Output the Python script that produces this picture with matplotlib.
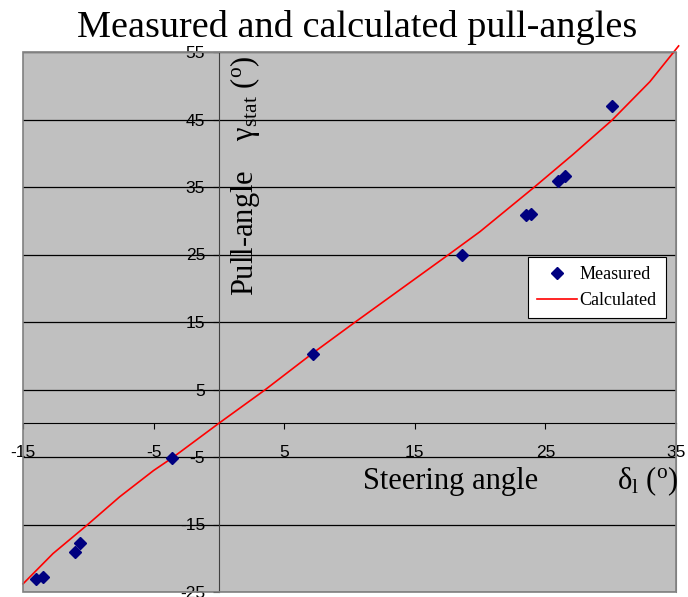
import matplotlib
matplotlib.use("Agg")
import matplotlib.pyplot as plt
from matplotlib.patches import Rectangle

# Data
measured_x = [-14.0, -13.5, -11.0, -10.6, -3.6, 7.2, 18.6, 23.5, 23.9, 26.0, 26.5, 30.1]
measured_y = [-23.0, -22.8, -19.1, -17.8, -5.1, 10.3, 25.0, 30.9, 31.0, 35.9, 36.6, 47.0]

calc_x = [-15.0, -12.7, -10.1, -7.6, -5.0, -3.55, 0.0, 3.5, 7.2, 10.3, 17.6, 20.0,
          24.1, 27.1, 30.1, 33.0, 35.2]
calc_y = [-23.8, -19.3, -15.1, -10.9, -7.0, -5.1, 0.0, 4.9, 10.4, 14.8, 25.0, 28.4,
          34.9, 39.8, 44.9, 50.6, 55.9]

x_ticks = [-15, -5, 5, 15, 25, 35]
y_ticks = [-25, -15, -5, 5, 15, 25, 35, 45, 55]

plt.rcParams['axes.unicode_minus'] = False
plt.rcParams['mathtext.fontset'] = 'custom'
plt.rcParams['mathtext.rm'] = 'Liberation Serif'
plt.rcParams['mathtext.it'] = 'Liberation Serif:italic'

W, H = 688, 597
fig = plt.figure(figsize=(W / 100, H / 100), dpi=100)
ax = fig.add_axes([23 / W, 1 - 592 / H, (676 - 23) / W, (592 - 52) / H])
ax.set_facecolor('#C0C0C0')
ax.set_xlim(-15, 35)
ax.set_ylim(-25, 55)

for yv in y_ticks:
    ax.axhline(yv, color='black', lw=0.9, zorder=1)

ax.plot(calc_x, calc_y, color='#FF0000', lw=1.2, label='Calculated', zorder=3, clip_on=False)
ax.plot(measured_x, measured_y, linestyle='none', marker='D', markersize=6.5,
        color='#000080', label='Measured', zorder=4)

ax.spines['left'].set_position(('data', 0))
ax.spines['bottom'].set_position(('data', 0))
ax.spines['left'].set_color('#404040')
ax.spines['bottom'].set_color('black')
ax.spines['top'].set_color('#808080')
ax.spines['right'].set_color('#808080')
ax.add_patch(Rectangle((0, 0), 1, 1, transform=ax.transAxes, fill=False,
                       edgecolor='#808080', lw=1.2, zorder=5, clip_on=False))

ax.set_xticks(x_ticks)
ax.set_yticks(y_ticks)
ax.set_xticklabels([str(v) for v in x_ticks])
ax.set_yticklabels([str(v) for v in y_ticks])
ax.tick_params(axis='x', direction='out', length=4, pad=12, labelsize=12.5)
ax.tick_params(axis='y', direction='out', length=4, pad=6, labelsize=12.5)
for lab in ax.get_xticklabels() + ax.get_yticklabels():
    lab.set_fontfamily('Liberation Sans')

serif = 'Liberation Serif'
fig.text(357 / W, 1 - 37 / H, 'Measured and calculated pull-angles', ha='center',
         va='baseline', fontsize=27.5, family=serif)
fig.text(363 / W, 1 - 489 / H, 'Steering angle', ha='left', va='baseline',
         fontsize=22, family=serif)
fig.text(617 / W, 1 - 489 / H, 'δ$_{\\rm l}$ ($^{\\rm o}$)', ha='left', va='baseline',
         fontsize=22, family=serif)
fig.text(245 / W, 1 - 176 / H, 'Pull-angle    γ$_{\\rm stat}$ ($^{\\rm o}$)', ha='center',
         va='center', rotation=90, fontsize=22, family=serif)

handles, labels = ax.get_legend_handles_labels()
leg = ax.legend(handles[::-1], labels[::-1], loc='upper left',
                bbox_to_anchor=(528 / W, 1 - 257 / H), bbox_transform=fig.transFigure,
                borderaxespad=0, fancybox=False, framealpha=1, edgecolor='black',
                prop={'family': serif, 'size': 13}, handlelength=2.2,
                handletextpad=0.15, labelspacing=0.5, borderpad=0.5)
leg.get_frame().set_linewidth(0.8)
leg.set_zorder(10)

fig.savefig('out.png', dpi=100)
